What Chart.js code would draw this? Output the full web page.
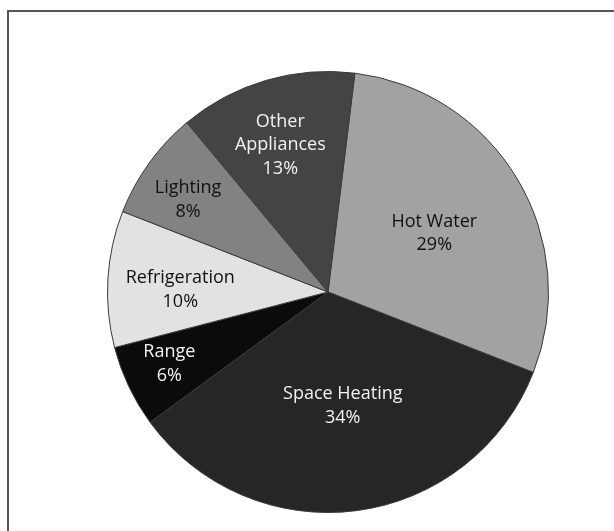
<!DOCTYPE html>
<html>
<head>
<meta charset="utf-8">
<script src="https://cdn.jsdelivr.net/npm/chart.js@4.4.1/dist/chart.umd.min.js"></script>
<style>
  html, body { margin: 0; padding: 0; background: #fff; }
  #wrap { position: relative; width: 614px; height: 531px; overflow: hidden; }
  #frame {
    position: absolute; left: 7px; top: 10px; width: 620px; height: 540px;
    border-left: 2px solid #555; border-top: 2px solid #555;
  }
  #chart { position: absolute; left: 0; top: 0; }
</style>
</head>
<body>
<div id="wrap">
  <div id="frame"></div>
  <canvas id="chart" width="614" height="531"></canvas>
</div>
<script>
// Household energy use by end use, percent of total
const categories = ['Hot Water', 'Space Heating', 'Range', 'Refrigeration', 'Lighting', 'Other Appliances'];
const shares     = [29, 34, 6, 10, 8, 13];

// Slice fills and label ink (dark text on light slices, white on dark ones)
const fills  = ['#a2a2a2', '#262626', '#0b0b0b', '#e2e2e2', '#828282', '#444444'];
const inks   = ['#111', '#f2f2f2', '#f2f2f2', '#111', '#111', '#f2f2f2'];
// How far out from the centre each label sits, as a fraction of the radius
const labelRadius = [0.55, 0.52, 0.79, 0.67, 0.76, 0.70];
const labelTurn   = [2, 0, 1, -2.5, -2.4, -1.6];   // small angle nudges, degrees

const sliceLabels = {
  id: 'sliceLabels',
  afterDatasetsDraw(chart) {
    const { ctx } = chart;
    const arcs = chart.getDatasetMeta(0).data;
    ctx.save();
    ctx.font = '18px "Open Sans", sans-serif';
    ctx.textAlign = 'center';
    ctx.textBaseline = 'middle';
    arcs.forEach((arc, i) => {
      const { x, y, startAngle, endAngle, outerRadius } = arc.getProps(['x', 'y', 'startAngle', 'endAngle', 'outerRadius'], true);
      const mid = (startAngle + endAngle) / 2 + labelTurn[i] * Math.PI / 180;
      const r = outerRadius * labelRadius[i];
      const cx = x + Math.cos(mid) * r;
      const cy = y + Math.sin(mid) * r;
      const lines = categories[i] === 'Other Appliances'
        ? ['Other', 'Appliances', shares[i] + '%']
        : [categories[i], shares[i] + '%'];
      const lh = 23.5;
      ctx.fillStyle = inks[i];
      lines.forEach((t, k) => {
        ctx.fillText(t, cx, cy + (k - (lines.length - 1) / 2) * lh);
      });
    });
    ctx.restore();
  }
};

new Chart(document.getElementById('chart'), {
  type: 'pie',
  data: {
    labels: categories,
    datasets: [{
      data: shares,
      backgroundColor: fills,
      borderColor: '#3a3a3a',
      borderWidth: 1
    }]
  },
  options: {
    responsive: false,
    animation: false,
    rotation: 7,
    layout: { padding: { left: 107, right: 65, top: 71, bottom: 18 } },
    plugins: {
      legend: { display: false },
      tooltip: { enabled: false }
    }
  },
  plugins: [sliceLabels]
});
</script>
</body>
</html>
